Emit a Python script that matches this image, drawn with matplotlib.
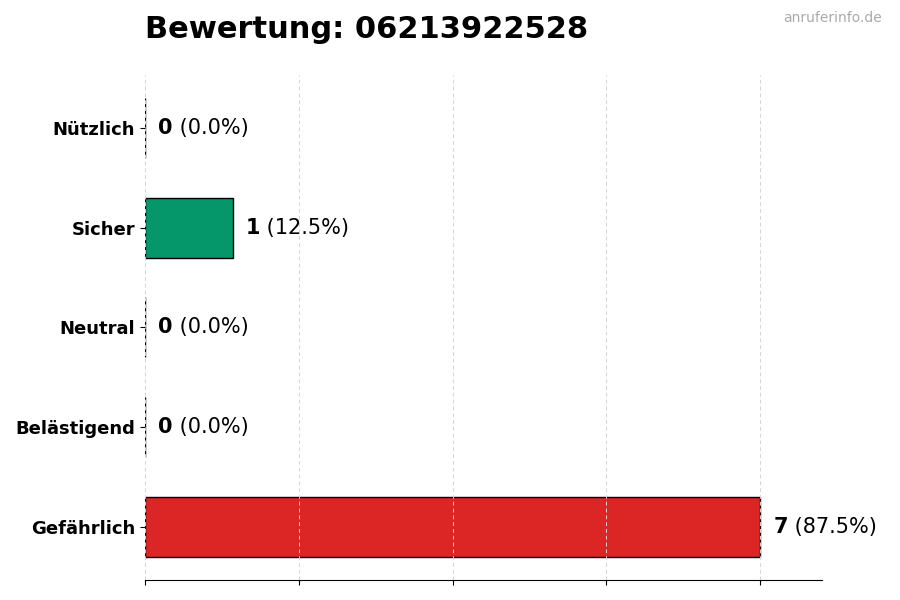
import numpy as np
import matplotlib
matplotlib.use('Agg')
import matplotlib.pyplot as plt

categories = ['Gefährlich', 'Belästigend', 'Neutral', 'Sicher', 'Nützlich']
counts = [7, 0, 0, 1, 0]
colors = ['#dc2626', '#f97316', '#6b7280', '#059669', '#2563eb']
number = '06213922528'

total = sum(counts)
max_val = max(counts)

fig = plt.figure(figsize=(9, 6), dpi=100)
ax = fig.add_axes([0.161, 0.0333, 0.752, 0.842])

y = np.arange(len(categories))
ax.barh(y, counts, height=0.6, color=colors, edgecolor='black', linewidth=1)

ax.set_yticks(y)
ax.set_yticklabels(categories, fontsize=13, fontweight='bold')
ax.set_xlim(0, max_val * 1.1)
ax.set_xticks(np.linspace(0, max_val, 5))
ax.set_xticklabels([])
ax.grid(axis='x', linestyle=(0, (4, 3)), color='#d4d4d4', linewidth=0.7)
ax.set_axisbelow(False)

for s in ['top', 'right', 'left']:
    ax.spines[s].set_visible(False)

# value labels: bold count, normal percentage
for yi, c in zip(y, counts):
    pct = c / total * 100
    t = ax.annotate(str(c), xy=(c, yi), xytext=(9.5, 0), textcoords='offset points',
                    ha='left', va='center', fontsize=15, fontweight='bold')
    ax.annotate(f' ({pct:.1f}%)', xy=(1, 0.5), xycoords=t,
                ha='left', va='center', fontsize=15)

fig.text(0.161, 0.95, f'Bewertung: {number}', fontsize=22, fontweight='bold',
         ha='left', va='center')
fig.text(0.98, 0.97, 'anruferinfo.de', fontsize=10, color='#aaaaaa',
         ha='right', va='center')

fig.savefig('out.png', dpi=100)
